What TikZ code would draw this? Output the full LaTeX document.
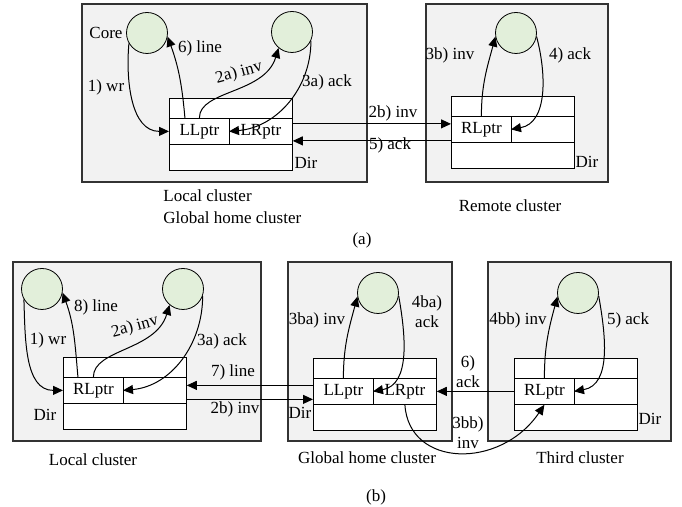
\documentclass[tikz,border=0pt]{standalone}
\usepackage{fontspec}
\setmainfont{Liberation Serif}
\usetikzlibrary{arrows.meta}
\definecolor{coregreen}{HTML}{E2EFDA}
\definecolor{boxgray}{HTML}{F2F2F2}
\tikzset{
  cluster/.style={draw=black!80,fill=boxgray,line width=0.6pt},
  core/.style={circle,draw,fill=coregreen,minimum size=20.5pt,inner sep=0pt},
  rowbox/.style={draw,fill=white,anchor=north west,minimum width=61.5pt,minimum height=10pt,inner sep=0pt},
  lowbox/.style={rowbox,minimum height=13pt},
  cell/.style={draw,fill=white,anchor=north west,minimum width=30pt,minimum height=13pt,inner sep=0pt},
  rcell/.style={cell,minimum width=31.5pt},
  msg/.style={-{Triangle[length=5pt,width=4.5pt]},line width=0.5pt},
  lbl/.style={inner sep=1pt,align=center},
}
\begin{document}
\begin{tikzpicture}[x=0.5pt,y=0.5pt,font=\fontsize{8.5}{10}\selectfont]
\useasboundingbox (0,0) rectangle (682,507);
% (a) clusters
\draw[cluster] (82,325) rectangle (367,503);
\draw[cluster] (426,325) rectangle (608,503);
\node[core] (cA1) at (147,474) {};
\node[core] (cA2) at (292,475) {};
\node[core] (cR) at (516,474) {};
% local directory
\node[rowbox] (aTop) at (169,409) {};
\node[cell] (aLL) at (169,389) {LLptr};
\node[rcell] (aLR) at (229,389) {LRptr};
\node[lowbox] (aBot) at (169,363) {};
\node[lbl] (aDir) at (306,344) {Dir};
% remote directory
\node[rowbox] (rTop) at (451,411) {};
\node[cell] (rRL) at (451,391) {RLptr};
\node[rcell] (rRR) at (511,391) {};
\node[lowbox] (rBot) at (451,365) {};
\node[lbl] (rDir) at (587,345) {Dir};
% (a) messages
\draw[msg] (cA1.210) to[out=-95,in=180] (aLL.west);
\draw[msg] ([xshift=8pt]aTop.south west) to[out=95,in=-70] (cA1.-10);
\draw[msg] (aLL.north) .. controls +(0,28) and +(-14,-46) .. (cA2.230);
\draw[msg] (cA2.-25) to[out=-90,in=5] (aLR.west);
\draw[msg] ([yshift=3.75pt]aLR.east) -- ([yshift=3.75pt]aLR.east -| rRL.west);
\draw[msg] ([yshift=-4.75pt]aLR.east -| rRL.west) -- ([yshift=-4.75pt]aLR.east);
\draw[msg] (rRL.north) to[out=90,in=-105] (cR.190);
\draw[msg] (cR.-10) to[out=-75,in=10] (rRR.west);
\node[lbl] (lCore) at (106,474) {Core};
\node[lbl] (l1) at (106,420) {1) wr};
\node[lbl] (l6) at (200,459) {6) line};
\node[lbl,rotate=15] (l2a) at (239,434) {2a) inv};
\node[lbl] (l3a) at (327,425) {3a) ack};
\node[lbl] (l2b) at (393,394) {2b) inv};
\node[lbl] (l5) at (390,362) {5) ack};
\node[lbl] (l3b) at (450,452) {3b) inv};
\node[lbl] (l4) at (570,452) {4) ack};
\node[lbl,anchor=west] (nLocA) at (161,311) {Local cluster};
\node[lbl,anchor=west] (nHomeA) at (161,289) {Global home cluster};
\node[lbl] (nRem) at (510,301) {Remote cluster};
\node[lbl] (capA) at (362,267) {(a)};
% (b) clusters
\draw[cluster] (13,66) rectangle (261,245);
\draw[cluster] (288,66) rectangle (452,245);
\draw[cluster] (488,66) rectangle (671,245);
\node[core] (cB1) at (42,218) {};
\node[core] (cB2) at (183,218) {};
\node[core] (cG) at (378,214) {};
\node[core] (cT) at (578,214) {};
% local directory
\node[rowbox] (bTop) at (63,150) {};
\node[cell] (bRL) at (63,130) {RLptr};
\node[rcell] (bRR) at (123,130) {};
\node[lowbox] (bBot) at (63,104) {};
\node[lbl] (bDir) at (45,92) {Dir};
% global home directory
\node[rowbox] (gTop) at (313,149) {};
\node[cell] (gLL) at (313,129) {LLptr};
\node[rcell] (gLR) at (373,129) {LRptr};
\node[lowbox] (gBot) at (313,103) {};
\node[lbl] (gDir) at (300,94) {Dir};
% third directory
\node[rowbox] (tTop) at (514,149) {};
\node[cell] (tRL) at (514,129) {RLptr};
\node[rcell] (tRR) at (574,129) {};
\node[lowbox] (tBot) at (514,103) {};
\node[lbl] (tDir) at (650,88) {Dir};
% (b) messages
\draw[msg] (cB1.210) to[out=-88,in=180] (bRL.west);
\draw[msg] ([xshift=7.5pt]bTop.south west) to[out=95,in=-70] (cB1.-10);
\draw[msg] (bRL.north) .. controls +(0,28) and +(-14,-46) .. (cB2.230);
\draw[msg] (cB2.-20) to[out=-90,in=5] (bRR.west);
\draw[msg] ([yshift=3pt]gLL.west) -- ([yshift=3pt]gLL.west -| bRR.east);
\draw[msg] ([yshift=-4pt]gLL.west -| bRR.east) -- ([yshift=-4pt]gLL.west);
\draw[msg] (gLL.north) to[out=90,in=-105] (cG.190);
\draw[msg] (cG.-8) to[out=-80,in=10] (gLR.west);
\draw[msg] (tRL.north) to[out=90,in=-105] (cT.190);
\draw[msg] (cT.-8) to[out=-80,in=10] (tRR.west);
\draw[msg] (tRL.west) -- (tRL.west -| gLR.east);
\draw[msg] (gLR.south) .. controls +(4,-63) and +(-44,-65) .. (tRL.south);
\node[lbl] (m8) at (96,200) {8) line};
\node[lbl,rotate=15] (m2a) at (135,180) {2a) inv};
\node[lbl] (m3a) at (222,166) {3a) ack};
\node[lbl] (m1) at (48,167) {1) wr};
\node[lbl] (m7) at (233,135) {7) line};
\node[lbl] (m2b) at (235,98) {2b) inv};
\node[lbl] (m3ba) at (317,187) {3ba) inv};
\node[lbl] (m4ba) at (427,195) {4ba)\\ack};
\node[lbl] (m6) at (468,135) {6)\\ack};
\node[lbl] (m3bb) at (468,74) {3bb)\\inv};
\node[lbl] (m4bb) at (518,187) {4bb) inv};
\node[lbl] (m5) at (628,187) {5) ack};
\node[lbl] (nLocB) at (93,47) {Local cluster};
\node[lbl] (nHomeB) at (367,49) {Global home cluster};
\node[lbl] (nThird) at (580,49) {Third cluster};
\node[lbl] (capB) at (376,10) {(b)};
\end{tikzpicture}
\end{document}
